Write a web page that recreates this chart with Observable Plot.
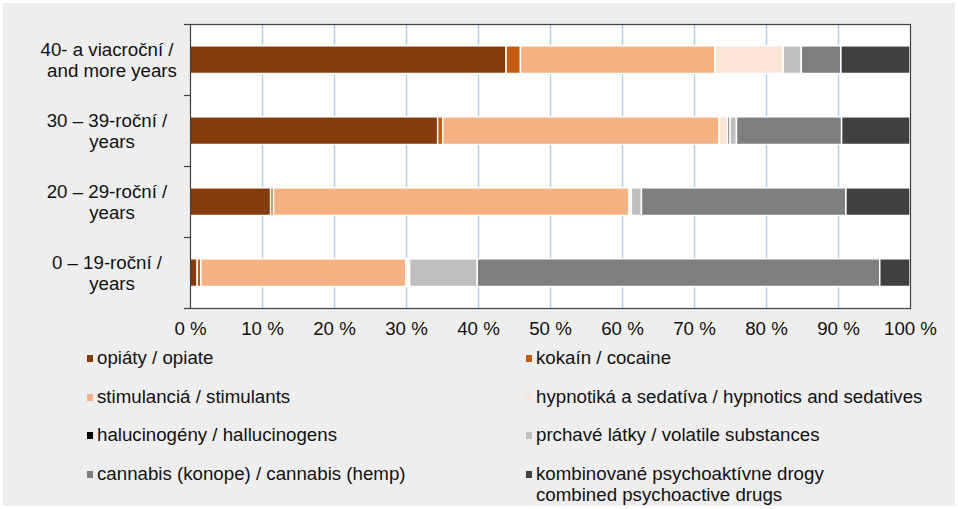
<!DOCTYPE html>
<html>
<head>
<meta charset="utf-8">
<script src="https://cdn.jsdelivr.net/npm/d3@7"></script>
<script src="https://cdn.jsdelivr.net/npm/@observablehq/plot@0.6"></script>
<style>
  html, body { margin: 0; padding: 0; background: #ffffff; }
  #wrap { position: absolute; left: 3px; top: 3px; width: 952px; height: 503px; background: #eeeeee; overflow: hidden; }
  #chart { position: absolute; left: -3px; top: -3px; width: 958px; }
  #chart svg { max-width: none; }
  #legend { position: absolute; left: 84px; top: 336px; display: grid; grid-template-columns: 439px 420px; grid-auto-rows: 38.7px;
            font-family: "Liberation Sans", Arial, sans-serif; font-size: 18.7px; color: #111111; }
  .item { display: flex; align-items: flex-start; line-height: 21px; padding-top: 8px; }
  .sw { width: 6px; height: 7px; margin-top: 8px; margin-right: 4px; flex: none; }
</style>
</head>
<body>
<div id="wrap"><div id="chart"></div><div id="legend"></div></div>
<script>
// Age groups (top to bottom)
const ageKeys = ["40+", "30–39", "20–29", "0–19"];
const labelLine1 = ["40- a viacroční /", "30 – 39-roční /", "20 – 29-roční /", "0 – 19-roční /"];
const labelLine2 = ["and more years", "years", "years", "years"];

// Series (stack order left to right)
const seriesNames = [
  "opiáty / opiate",
  "kokaín / cocaine",
  "stimulanciá / stimulants",
  "hypnotiká a sedatíva / hypnotics and sedatives",
  "halucinogény / hallucinogens",
  "prchavé látky / volatile substances",
  "cannabis (konope) / cannabis (hemp)",
  "kombinované psychoaktívne drogy\ncombined psychoactive drugs"
];
const seriesColors = ["#843c0c", "#c55a11", "#f4b183", "#fbe5d6", "#000000", "#bfbfbf", "#7f7f7f", "#404040"];

// Percentages per age group, order: 40+, 30–39, 20–29, 0–19
const opiate       = [43.9, 34.4, 11.2, 1.0];
const cocaine      = [2.0, 0.7, 0.4, 0.5];
const stimulants   = [27.0, 38.4, 49.4, 28.5];
const hypnotics    = [9.5, 1.2, 0.2, 0.3];
const hallucinogen = [0.0, 0.3, 0.1, 0.2];
const volatile     = [2.5, 0.9, 1.4, 9.4];
const cannabis     = [5.5, 14.6, 28.4, 55.9];
const combined     = [9.6, 9.5, 8.9, 4.2];

const xTicks = [0, 10, 20, 30, 40, 50, 60, 70, 80, 90, 100];

const seriesValues = [opiate, cocaine, stimulants, hypnotics, hallucinogen, volatile, cannabis, combined];
const data = [];
seriesNames.forEach((s, i) => ageKeys.forEach((a, j) => data.push({series: s, age: a, value: seriesValues[i][j]})));
const labels = ageKeys.map((a, j) => ({age: a, l1: labelLine1[j], l2: labelLine2[j]}));
const boundaries = ageKeys.map(a => ({age: a}));

const font = "Liberation Sans, Arial, sans-serif";
const fs = 18.7;

const chart = Plot.plot({
  width: 958,
  height: 342,
  marginLeft: 190,
  marginRight: 48,
  marginTop: 24,
  marginBottom: 34,
  style: {fontFamily: font, fontSize: fs + "px", color: "#111111", background: "transparent", overflow: "visible", maxWidth: "none"},
  x: {domain: [0, 100], axis: null, label: null},
  y: {domain: ageKeys, padding: 0, axis: null, label: null},
  color: {domain: seriesNames, range: seriesColors},
  marks: [
    Plot.frame({fill: "white", stroke: "none"}),
    Plot.ruleX(xTicks.filter(d => d > 0 && d < 100), {stroke: "#b4d2ee", strokeWidth: 1.5}),
    Plot.barX(data, Plot.stackX({x: "value", y: "age", fill: "series", stroke: "white", strokeWidth: 1.5, insetTop: 21.8, insetBottom: 21.5})),
    Plot.frame({stroke: "#404040", strokeWidth: 1.2}),
    Plot.ruleY(boundaries, {y: "age", x1: -0.85, x2: 0, dy: -35.5, stroke: "#404040", strokeWidth: 1.2}),
    Plot.ruleY(boundaries.slice(-1), {y: "age", x1: -0.85, x2: 0, dy: 35.5, stroke: "#404040", strokeWidth: 1.2}),
    Plot.text(labels, {y: "age", x: () => -11.6, text: "l1", dy: -10, textAnchor: "middle", fontSize: fs, fill: "#111111"}),
    Plot.text(labels, {y: "age", x: () => -10.9, text: "l2", dy: 11, textAnchor: "middle", fontSize: fs, fill: "#111111"}),
    Plot.axisX(xTicks, {tickSize: 0, tickPadding: 13, tickFormat: d => d + " %", fontSize: fs, fill: "#111111", label: null})
  ]
});
document.getElementById("chart").appendChild(chart);

const legend = document.getElementById("legend");
seriesNames.forEach((s, i) => {
  const it = document.createElement("div");
  it.className = "item";
  const sw = document.createElement("span");
  sw.className = "sw";
  sw.style.background = seriesColors[i];
  const tx = document.createElement("span");
  tx.innerHTML = s.split("\n").join("<br>");
  it.appendChild(sw); it.appendChild(tx);
  legend.appendChild(it);
});
</script>
</body>
</html>
